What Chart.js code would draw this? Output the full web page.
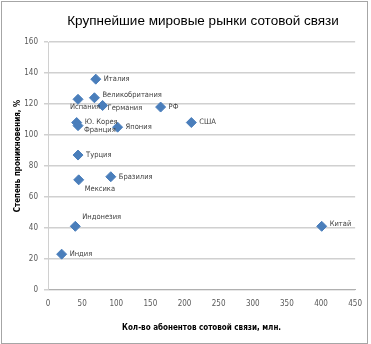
<!DOCTYPE html>
<html>
<head>
<meta charset="utf-8">
<script src="https://cdn.jsdelivr.net/npm/chart.js@4"></script>
<style>
  body { margin: 0; background: #fff; }
  #wrap { position: absolute; left: 1px; top: 1px; width: 365px; height: 341px; border: 1px solid #a6a6a6; }
  canvas { display: block; }
</style>
</head>
<body>
<div id="wrap"><canvas id="chart" width="365" height="341"></canvas></div>
<script>
// Countries, subscribers (mln) and penetration (%)
const countries = ['Италия', 'Великобритания', 'Испания', 'Германия', 'РФ', 'Ю. Корея', 'Франция', 'Япония',
    'США', 'Турция', 'Бразилия', 'Мексика', 'Индонезия', 'Индия', 'Китай'];
const subscribers = [70, 68, 44, 80, 165, 42, 44, 102, 210, 44, 92, 45, 40, 20, 401];
const penetration = [136, 124, 123, 119, 118, 108, 106, 105, 108, 87, 73, 71, 41, 23, 41];
const xTicks = [0, 50, 100, 150, 200, 250, 300, 350, 400, 450];
const yTicks = [0, 20, 40, 60, 80, 100, 120, 140, 160];
const chartTitle = 'Крупнейшие мировые рынки сотовой связи';
const yTitle = 'Степень проникновения, %';

const narrow = '"Liberation Sans Narrow", "DejaVu Sans Condensed", "Liberation Sans", sans-serif';

// label offsets from the marker (dx, dy, align)
const labelOffsets = {
    'Великобритания': [8, -3, 'left'],
    'Испания': [7, 8, 'center'],
    'Германия': [5, 3, 'left'],
    'Франция': [6, 4, 'left'],
    'Мексика': [6, 9, 'left'],
    'Индонезия': [7, -9, 'left'],
    'Китай': [8, -2, 'left']
};

const points = countries.map((c, i) => ({ x: subscribers[i], y: penetration[i] }));

const pointLabels = {
    id: 'pointLabels',
    afterDatasetsDraw(chart) {
        const ctx = chart.ctx;
        const meta = chart.getDatasetMeta(0);
        ctx.save();
        ctx.font = '7.5px ' + narrow;
        ctx.fillStyle = '#404040';
        ctx.textBaseline = 'middle';
        meta.data.forEach((el, i) => {
            const name = countries[i];
            const off = labelOffsets[name] || [8, 0, 'left'];
            ctx.textAlign = off[2];
            ctx.fillText(name, el.x + off[0], el.y + off[1]);
        });
        // chart title, slightly right of centre like the original
        ctx.font = '13.5px "Liberation Sans", sans-serif';
        ctx.fillStyle = '#000';
        ctx.textAlign = 'center';
        ctx.fillText(chartTitle, 201, 19);
        // y axis title, a bit above the middle of the plot
        ctx.font = 'bold 8px ' + narrow;
        ctx.translate(16, 154);
        ctx.rotate(-Math.PI / 2);
        ctx.fillText(yTitle, 0, 0);
        ctx.restore();
    }
};

new Chart(document.getElementById('chart'), {
    type: 'scatter',
    data: {
        datasets: [{
            data: points,
            backgroundColor: '#4a7ebb',
            borderColor: '#4a7ebb',
            pointStyle: 'rectRot',
            pointRadius: 5,
            pointHoverRadius: 5
        }]
    },
    options: {
        responsive: false,
        animation: false,
        layout: { padding: { top: 40, right: 10, bottom: 10, left: 9 } },
        plugins: {
            legend: { display: false },
            tooltip: { enabled: false },
            title: { display: false }
        },
        scales: {
            x: {
                type: 'linear',
                min: 0,
                max: 450,
                afterBuildTicks: axis => { axis.ticks = xTicks.map(v => ({ value: v })); },
                grid: { display: false, drawOnChartArea: false, tickLength: 4, color: '#b0b0b0' },
                border: { display: true, color: '#b0b0b0' },
                ticks: { color: '#595959', font: { family: narrow, size: 8 }, padding: 5, maxRotation: 0 },
                title: {
                    display: true,
                    text: 'Кол-во абонентов сотовой связи, млн.',
                    color: '#000',
                    font: { family: narrow, size: 8, weight: 'bold' },
                    padding: { top: 10, bottom: 0 }
                }
            },
            y: {
                min: 0,
                max: 160,
                afterBuildTicks: axis => { axis.ticks = yTicks.map(v => ({ value: v })); },
                grid: { color: '#d0d0d0', lineWidth: 1.5, tickLength: 4, drawTicks: true },
                border: { display: true, color: '#d0d0d0' },
                ticks: { color: '#595959', font: { family: narrow, size: 8 }, padding: 6 },
                title: { display: false },
                afterFit: scale => { scale.width = 37; }
            }
        }
    },
    plugins: [pointLabels]
});
</script>
</body>
</html>
